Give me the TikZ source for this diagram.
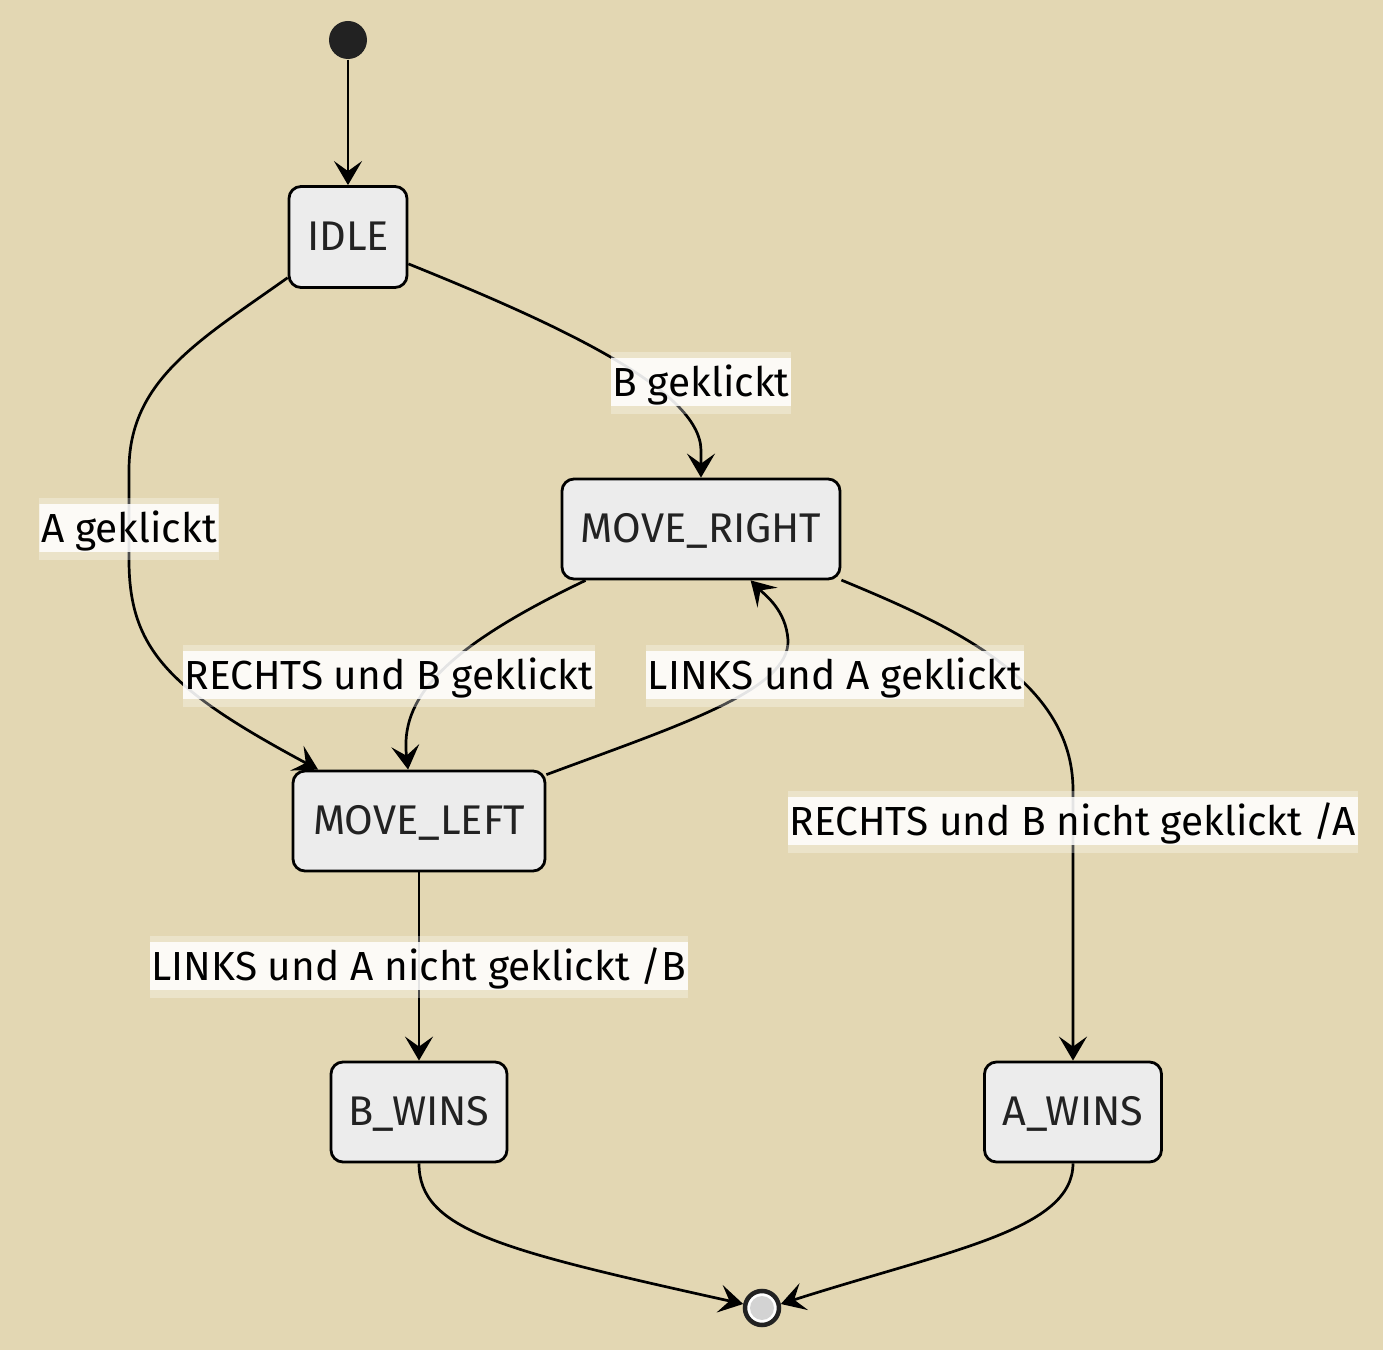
\documentclass[tikz,border=0pt]{standalone}
\usepackage{fontspec}
\setmainfont{Fira Sans}
\usetikzlibrary{arrows.meta}
\definecolor{bg}{HTML}{E3D7B3}
\definecolor{statefill}{HTML}{ECECEC}
\definecolor{dark}{HTML}{222222}
\definecolor{endgray}{HTML}{D3D3D3}
\begin{document}
\begin{tikzpicture}[x=0.1mm,y=-0.1mm,
  txt/.style={font=\fontsize{11.8}{14}\selectfont, text height=3.0mm, text depth=0.2mm},
  state/.style={txt, draw=black, fill=statefill, line width=0.28mm, rounded corners=1.2mm, inner sep=0pt, text=dark},
  lbl/.style={txt, font=\fontsize{11.55}{14}\selectfont, fill=white, fill opacity=0.3, text opacity=1, text=black, inner xsep=0.5pt, inner ysep=0pt, minimum height=6.2mm,
    path picture={\fill[white, fill opacity=0.85] ([yshift=0.75mm]path picture bounding box.south west) rectangle ([yshift=-0.65mm]path picture bounding box.north east);}},
  trans/.style={draw=black, line width=0.27mm, -{Stealth[length=2.4mm, width=2.8mm, inset=1.0mm]}}
]
\fill[bg] (0,0) rectangle (1383,1350);
\useasboundingbox (0,0) rectangle (1383,1350);

% states
\node[circle, fill=dark, minimum size=3.8mm, inner sep=0pt] (start) at (348,40) {};
\node[state, minimum width=11.8mm, minimum height=10.1mm] (idle) at (348,237) {IDLE};
\node[state, minimum width=27.8mm, minimum height=10mm] (mr) at (701,529) {MOVE\_RIGHT};
\node[state, minimum width=25.2mm, minimum height=10mm] (ml) at (419,821) {MOVE\_LEFT};
\node[state, minimum width=17.6mm, minimum height=10mm] (bw) at (419,1112) {B\_WINS};
\node[state, minimum width=17.7mm, minimum height=10mm] (aw) at (1073,1112) {A\_WINS};
\node[circle, draw=dark, line width=0.45mm, fill=white, minimum size=3.4mm, inner sep=0pt,
  path picture={\fill[endgray] (path picture bounding box.center) circle (1.2mm);}] (end) at (762,1308) {};

% transitions
\draw[trans] (start) -- (idle);
\draw[trans] (idle.-24.6) .. controls (560,325) and (700,390) .. (701,450) -- (mr.north);
\draw[trans] (idle.214.8) .. controls (200,340) and (129,380) .. (129,470) -- (129,560)
  .. controls (129,650) and (170,690) .. (ml.153.7);
\draw[trans] (mr.204.8) .. controls (440,650) and (400,700) .. (ml.102.4);
\draw[trans] (ml.20.05) .. controls (680,725) and (790,690) .. (788,640)
  .. controls (786,610) and (765,595) .. (mr.-46.5);
\draw[trans] (mr.-20.9) .. controls (950,625) and (1073,680) .. (1073,790) -- (aw.north);
\draw[trans] (ml.south) -- (bw.north);
\draw[trans] (bw.south) .. controls (419,1230) and (500,1250) .. (end.168);
\draw[trans] (aw.south) .. controls (1073,1230) and (950,1250) .. (end.12);

% labels
\node[lbl] (l1) at (701,383) {B geklickt};
\node[lbl] (l2) at (129,529) {A geklickt};
\node[lbl] (l3) at (389,676) {RECHTS und B geklickt};
\node[lbl] (l4) at (835,676) {LINKS und A geklickt};
\node[lbl] (l5) at (1073,822) {RECHTS und B nicht geklickt /A};
\node[lbl] (l6) at (419,967) {LINKS und A nicht geklickt /B};
\end{tikzpicture}
\end{document}
